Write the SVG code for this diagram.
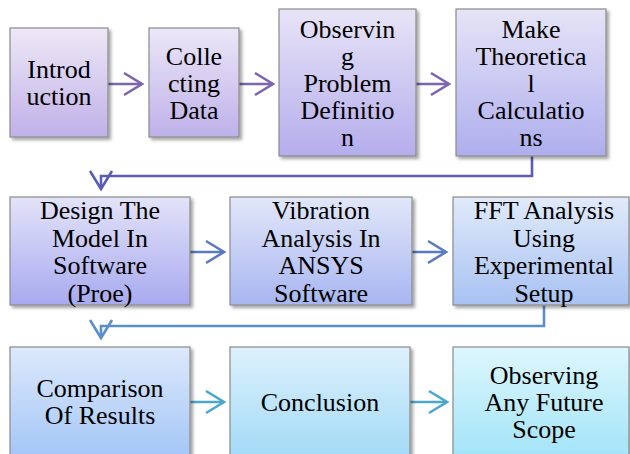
<svg xmlns="http://www.w3.org/2000/svg" width="630" height="454" viewBox="0 0 630 454">
<defs>
<style>
.box{stroke:#8a8a8a;stroke-width:1.2;filter:url(#sh)}
.t{font-family:"Liberation Serif","Times New Roman",serif;font-size:26px;fill:#000;text-anchor:middle}
.ln{fill:none;stroke-width:2.6;stroke-linecap:butt;stroke-linejoin:miter}
</style>
<filter id="sh" x="-10%" y="-10%" width="125%" height="125%">
<feDropShadow dx="2.5" dy="2.5" stdDeviation="1.8" flood-color="#000" flood-opacity="0.35"/>
</filter>
<linearGradient id="g1" x1="0" y1="0" x2="0" y2="1"><stop offset="0" stop-color="#eee8f7"/><stop offset="1" stop-color="#c0b1e8"/></linearGradient>
<linearGradient id="g2" x1="0" y1="0" x2="0" y2="1"><stop offset="0" stop-color="#ece7f7"/><stop offset="1" stop-color="#beb1e9"/></linearGradient>
<linearGradient id="g3" x1="0" y1="0" x2="0" y2="1"><stop offset="0" stop-color="#e8e4f7"/><stop offset="1" stop-color="#b4adec"/></linearGradient>
<linearGradient id="g4" x1="0" y1="0" x2="0" y2="1"><stop offset="0" stop-color="#e6e4f7"/><stop offset="1" stop-color="#aeaeee"/></linearGradient>
<linearGradient id="g5" x1="0" y1="0" x2="0" y2="1"><stop offset="0" stop-color="#e3e3f8"/><stop offset="1" stop-color="#a8aaf0"/></linearGradient>
<linearGradient id="g6" x1="0" y1="0" x2="0" y2="1"><stop offset="0" stop-color="#e2e7f9"/><stop offset="1" stop-color="#a8b6f1"/></linearGradient>
<linearGradient id="g7" x1="0" y1="0" x2="0" y2="1"><stop offset="0" stop-color="#e0eafa"/><stop offset="1" stop-color="#a8c2f3"/></linearGradient>
<linearGradient id="g8" x1="0" y1="0" x2="0" y2="1"><stop offset="0" stop-color="#dde9fb"/><stop offset="1" stop-color="#a4c6f7"/></linearGradient>
<linearGradient id="g9" x1="0" y1="0" x2="0" y2="1"><stop offset="0" stop-color="#ddf1fc"/><stop offset="1" stop-color="#a3daf7"/></linearGradient>
<linearGradient id="g10" x1="0" y1="0" x2="0" y2="1"><stop offset="0" stop-color="#ddf7fd"/><stop offset="1" stop-color="#a3e4f8"/></linearGradient>
</defs>

<g id="connectors">
<g stroke="#7d63b0" class="ln">
<path class="ln" d="M108,84 H142"/><path class="ln" d="M124,73 L142,84 L124,95"/>
<path class="ln" d="M239,84 H273"/><path class="ln" d="M255,73 L273,84 L255,95"/>
<path class="ln" d="M416,84 H449"/><path class="ln" d="M431,73 L449,84 L431,95"/>
</g>
<g stroke="#5a5db4" class="ln">
<path class="ln" d="M532,156 V176 H101 V189"/><path class="ln" d="M90,171 L101,189 L112,171"/>
</g>
<g stroke="#5a78c4" class="ln">
<path class="ln" d="M190,252 H224"/><path class="ln" d="M206,241 L224,252 L206,263"/>
<path class="ln" d="M412,252 H446"/><path class="ln" d="M428,241 L446,252 L428,263"/>
</g>
<g stroke="#5a8fcb" class="ln">
<path class="ln" d="M544,305 V326 H101 V338"/><path class="ln" d="M90,320 L101,338 L112,320"/>
</g>
<g stroke="#4aa8d0" class="ln">
<path class="ln" d="M190,402 H224"/><path class="ln" d="M206,391 L224,402 L206,413"/>
<path class="ln" d="M410,402 H447"/><path class="ln" d="M429,391 L447,402 L429,413"/>
</g>
</g>

<g id="introduction">
<rect class="box" x="10" y="28" width="98" height="109" fill="url(#g1)"/>
<text class="t" x="59" y="78">Introd</text>
<text class="t" x="59" y="105">uction</text>
</g>
<g id="collecting">
<rect class="box" x="149" y="28" width="90" height="109" fill="url(#g2)"/>
<text class="t" x="194" y="65">Colle</text>
<text class="t" x="194" y="92">cting</text>
<text class="t" x="194" y="119">Data</text>
</g>
<g id="observing">
<rect class="box" x="279" y="9" width="137" height="147" fill="url(#g3)"/>
<text class="t" x="347.5" y="38">Observin</text>
<text class="t" x="347.5" y="65">g</text>
<text class="t" x="347.5" y="92">Problem</text>
<text class="t" x="347.5" y="119">Definitio</text>
<text class="t" x="347.5" y="146">n</text>
</g>
<g id="theoretical">
<rect class="box" x="456" y="9" width="150" height="147" fill="url(#g4)"/>
<text class="t" x="531" y="38">Make</text>
<text class="t" x="531" y="65">Theoretica</text>
<text class="t" x="531" y="92">l</text>
<text class="t" x="531" y="119">Calculatio</text>
<text class="t" x="531" y="146">ns</text>
</g>

<g id="design">
<rect class="box" x="10" y="197" width="180" height="108" fill="url(#g5)"/>
<text class="t" x="100" y="219">Design The</text>
<text class="t" x="100" y="246.5">Model In</text>
<text class="t" x="100" y="274">Software</text>
<text class="t" x="100" y="301.5">(Proe)</text>
</g>
<g id="vibration">
<rect class="box" x="230" y="197" width="182" height="108" fill="url(#g6)"/>
<text class="t" x="321" y="219">Vibration</text>
<text class="t" x="321" y="246.5">Analysis In</text>
<text class="t" x="321" y="274">ANSYS</text>
<text class="t" x="321" y="301.5">Software</text>
</g>
<g id="fft">
<rect class="box" x="453" y="197" width="176" height="108" fill="url(#g7)"/>
<text class="t" x="544" y="219">FFT Analysis</text>
<text class="t" x="544" y="246.5">Using</text>
<text class="t" x="544" y="274">Experimental</text>
<text class="t" x="544" y="301.5">Setup</text>
</g>

<g id="comparison">
<rect class="box" x="10" y="347" width="180" height="110" fill="url(#g8)"/>
<text class="t" x="100" y="397">Comparison</text>
<text class="t" x="100" y="424">Of Results</text>
</g>
<g id="conclusion">
<rect class="box" x="230" y="347" width="180" height="110" fill="url(#g9)"/>
<text class="t" x="320" y="411">Conclusion</text>
</g>
<g id="future">
<rect class="box" x="453" y="347" width="176" height="110" fill="url(#g10)"/>
<text class="t" x="544" y="384">Observing</text>
<text class="t" x="544" y="411">Any Future</text>
<text class="t" x="544" y="438">Scope</text>
</g>
</svg>
